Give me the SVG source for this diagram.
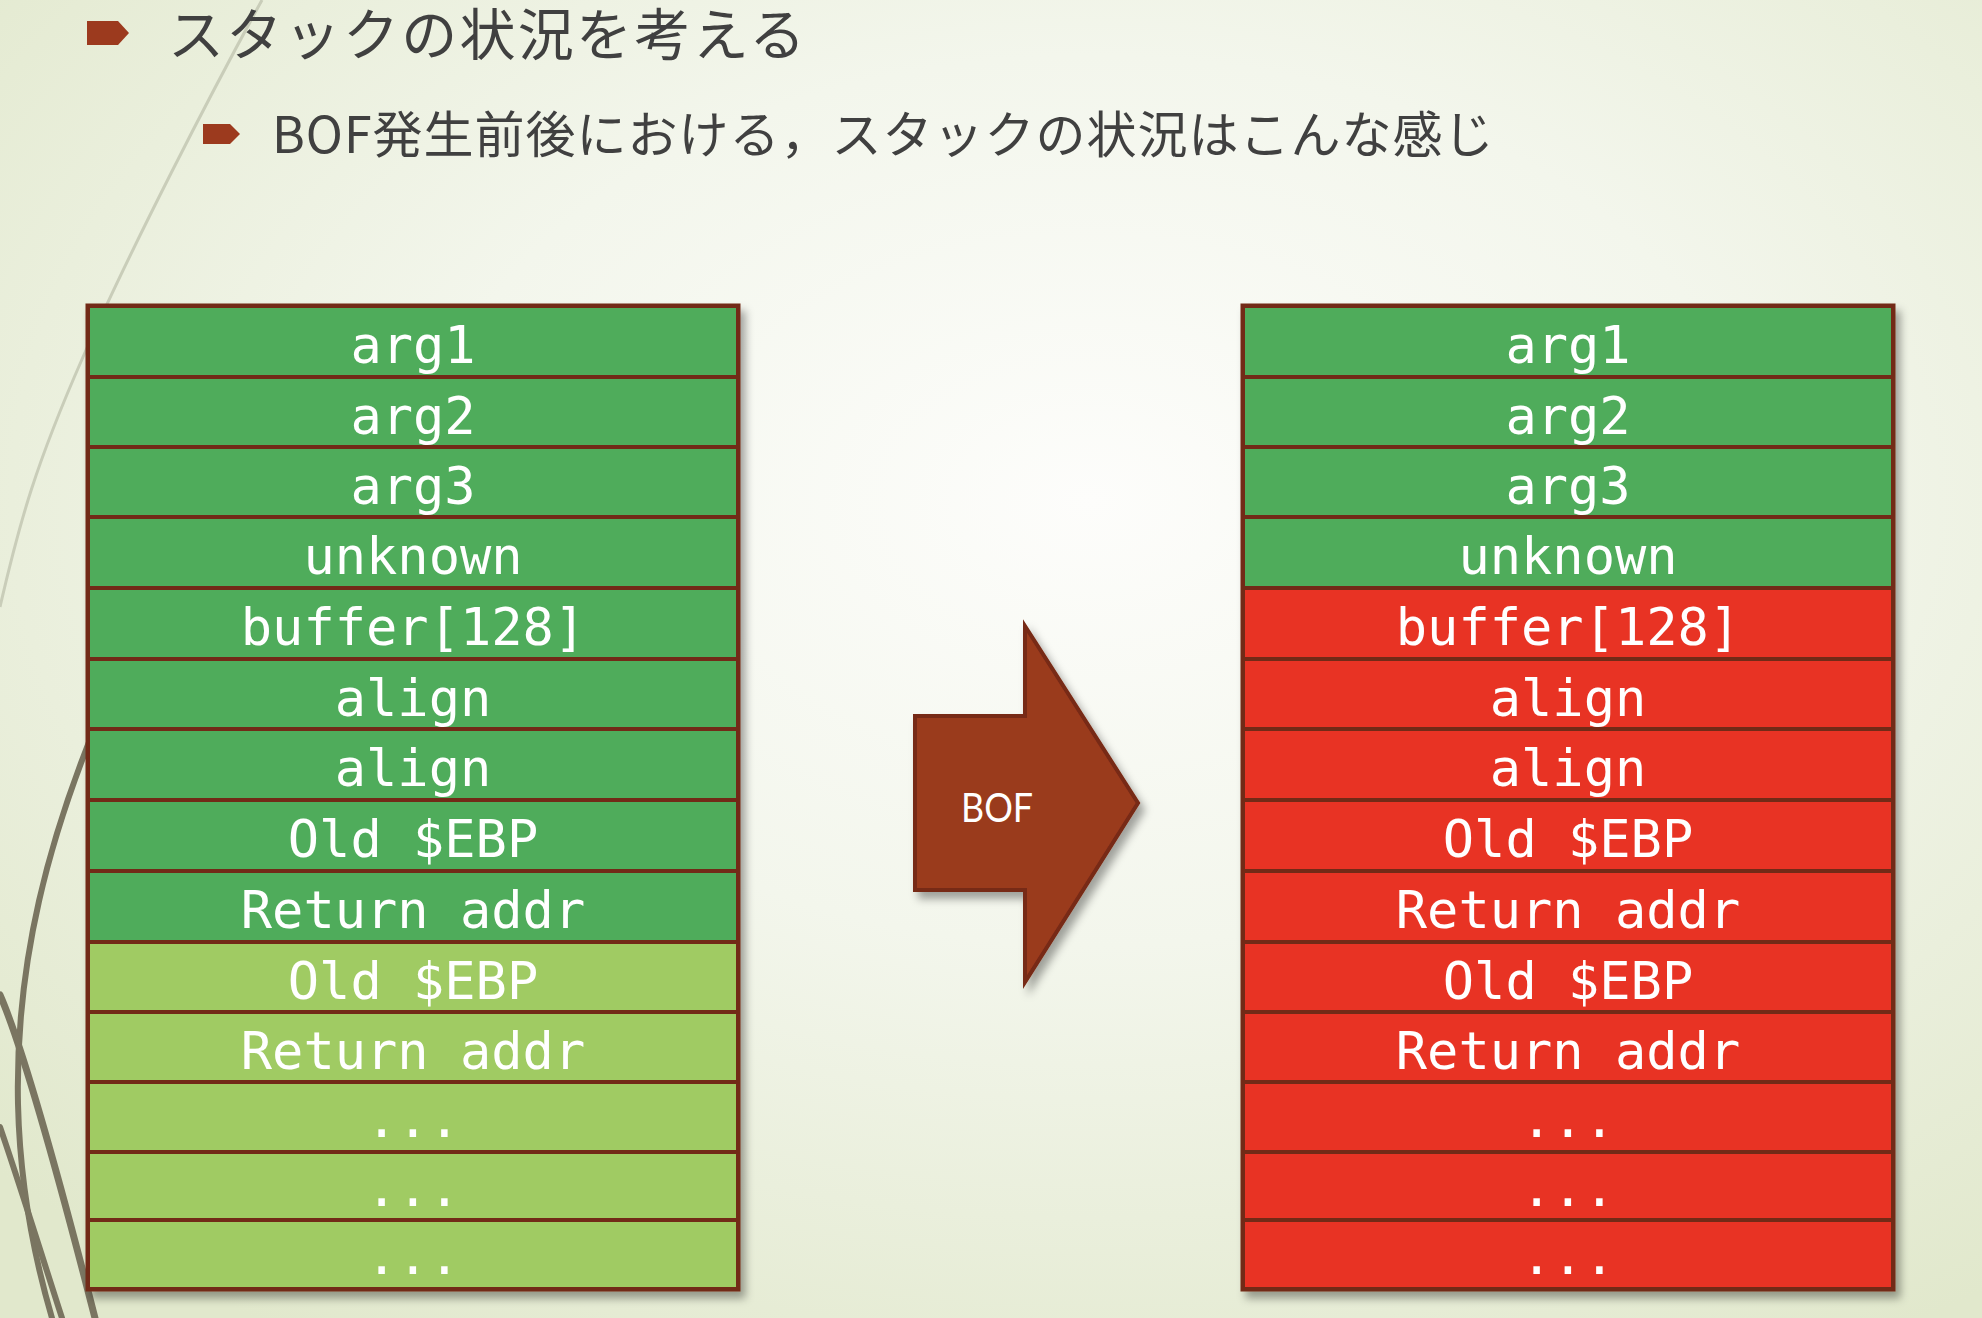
<svg xmlns="http://www.w3.org/2000/svg" width="1982" height="1318" viewBox="0 0 1982 1318">
<defs>
<radialGradient id="bg" cx="0.55" cy="0.38" r="0.75">
<stop offset="0" stop-color="#FDFDFB"/>
<stop offset="0.45" stop-color="#F3F6EC"/>
<stop offset="1" stop-color="#E1E8CC"/>
</radialGradient>
<filter id="shadow" x="-10%" y="-10%" width="125%" height="125%">
<feDropShadow dx="5" dy="7" stdDeviation="4" flood-color="#000" flood-opacity="0.35"/>
</filter>
</defs>
<style>
.dg{fill:#4FAC5B;stroke:#722A17;stroke-width:4}
.lg{fill:#A0CB63;stroke:#722A17;stroke-width:4}
.rd{fill:#E83324;stroke:#722A17;stroke-width:4}
.frame{fill:#722A17;stroke:#722A17;stroke-width:5}
.cell{font-family:"DejaVu Sans Mono","Liberation Mono",monospace;font-size:52px;fill:#FFFFFF;text-anchor:middle}
.deco{fill:none;stroke:#7A7561;stroke-linecap:round}
.bullet{fill:#9C3A1E}
.head{font-family:"Noto Sans CJK JP","Noto Sans",sans-serif;fill:#404040}
</style>
<rect x="0" y="0" width="1982" height="1318" fill="url(#bg)"/>
<g id="decoration">
<path d="M262,0 C210,95 130,250 83,357 S20,520 0,607" fill="none" stroke="#C9CDB9" stroke-width="3"/>
<path class="deco" d="M100,715 C50,835 15,960 18,1104 C20,1190 35,1260 52,1318" stroke-width="6"/>
<path class="deco" d="M0,995 C22,1045 57,1170 95,1318" stroke-width="7"/>
<path class="deco" d="M0,1127 C20,1185 40,1250 62,1318" stroke-width="6"/>
</g>
<g id="title">
<polygon class="bullet" points="87,21 118,21 129,33 118,45 87,45"/>
<text class="head" x="168" y="55" font-size="56" letter-spacing="2.3">スタックの状況を考える</text>
</g>
<g id="subtitle">
<polygon class="bullet" points="203,124 230,124 240,134 230,144 203,144"/>
<text class="head" x="272" y="153" font-size="50" letter-spacing="1">BOF発生前後における，スタックの状況はこんな感じ</text>
</g>
<g id="stack-before">
<rect class="frame" x="88" y="306" width="650" height="983" filter="url(#shadow)"/>
<g id="before-arg1"><rect class="dg" x="88" y="306" width="650" height="71"/><text class="cell" x="413" y="363">arg1</text></g>
<g id="before-arg2"><rect class="dg" x="88" y="377" width="650" height="70"/><text class="cell" x="413" y="434">arg2</text></g>
<g id="before-arg3"><rect class="dg" x="88" y="447" width="650" height="70"/><text class="cell" x="413" y="504">arg3</text></g>
<g id="before-unknown"><rect class="dg" x="88" y="517" width="650" height="71"/><text class="cell" x="413" y="574">unknown</text></g>
<g id="before-buffer"><rect class="dg" x="88" y="588" width="650" height="71"/><text class="cell" x="413" y="645">buffer[128]</text></g>
<g id="before-align1"><rect class="dg" x="88" y="659" width="650" height="70"/><text class="cell" x="413" y="716">align</text></g>
<g id="before-align2"><rect class="dg" x="88" y="729" width="650" height="71"/><text class="cell" x="413" y="786">align</text></g>
<g id="before-oldebp1"><rect class="dg" x="88" y="800" width="650" height="71"/><text class="cell" x="413" y="857">Old $EBP</text></g>
<g id="before-ret1"><rect class="dg" x="88" y="871" width="650" height="71"/><text class="cell" x="413" y="928">Return addr</text></g>
<g id="before-oldebp2"><rect class="lg" x="88" y="942" width="650" height="70"/><text class="cell" x="413" y="999">Old $EBP</text></g>
<g id="before-ret2"><rect class="lg" x="88" y="1012" width="650" height="70"/><text class="cell" x="413" y="1069">Return addr</text></g>
<g id="before-dots1"><rect class="lg" x="88" y="1082" width="650" height="70"/><text class="cell" x="413" y="1137">...</text></g>
<g id="before-dots2"><rect class="lg" x="88" y="1152" width="650" height="68"/><text class="cell" x="413" y="1206">...</text></g>
<g id="before-dots3"><rect class="lg" x="88" y="1220" width="650" height="69"/><text class="cell" x="413" y="1274">...</text></g>
</g>
<g id="stack-after">
<rect class="frame" x="1243" y="306" width="650" height="983" filter="url(#shadow)"/>
<g id="after-arg1"><rect class="dg" x="1243" y="306" width="650" height="71"/><text class="cell" x="1568" y="363">arg1</text></g>
<g id="after-arg2"><rect class="dg" x="1243" y="377" width="650" height="70"/><text class="cell" x="1568" y="434">arg2</text></g>
<g id="after-arg3"><rect class="dg" x="1243" y="447" width="650" height="70"/><text class="cell" x="1568" y="504">arg3</text></g>
<g id="after-unknown"><rect class="dg" x="1243" y="517" width="650" height="71"/><text class="cell" x="1568" y="574">unknown</text></g>
<g id="after-buffer"><rect class="rd" x="1243" y="588" width="650" height="71"/><text class="cell" x="1568" y="645">buffer[128]</text></g>
<g id="after-align1"><rect class="rd" x="1243" y="659" width="650" height="70"/><text class="cell" x="1568" y="716">align</text></g>
<g id="after-align2"><rect class="rd" x="1243" y="729" width="650" height="71"/><text class="cell" x="1568" y="786">align</text></g>
<g id="after-oldebp1"><rect class="rd" x="1243" y="800" width="650" height="71"/><text class="cell" x="1568" y="857">Old $EBP</text></g>
<g id="after-ret1"><rect class="rd" x="1243" y="871" width="650" height="71"/><text class="cell" x="1568" y="928">Return addr</text></g>
<g id="after-oldebp2"><rect class="rd" x="1243" y="942" width="650" height="70"/><text class="cell" x="1568" y="999">Old $EBP</text></g>
<g id="after-ret2"><rect class="rd" x="1243" y="1012" width="650" height="70"/><text class="cell" x="1568" y="1069">Return addr</text></g>
<g id="after-dots1"><rect class="rd" x="1243" y="1082" width="650" height="70"/><text class="cell" x="1568" y="1137">...</text></g>
<g id="after-dots2"><rect class="rd" x="1243" y="1152" width="650" height="68"/><text class="cell" x="1568" y="1206">...</text></g>
<g id="after-dots3"><rect class="rd" x="1243" y="1220" width="650" height="69"/><text class="cell" x="1568" y="1274">...</text></g>
</g>
<g id="connectors">
<g id="bof-arrow">
<polygon points="915,716 1025,716 1025,626 1138,803 1025,982 1025,890 915,890" fill="#9A3A1F" stroke="#772913" stroke-width="4" stroke-linejoin="miter" filter="url(#shadow)"/>
<text x="997" y="822" font-family="Lato,'Open Sans','Liberation Sans',sans-serif" font-size="41" fill="#FFFFFF" text-anchor="middle" textLength="72" lengthAdjust="spacingAndGlyphs">BOF</text>
</g>
</g>
</svg>
